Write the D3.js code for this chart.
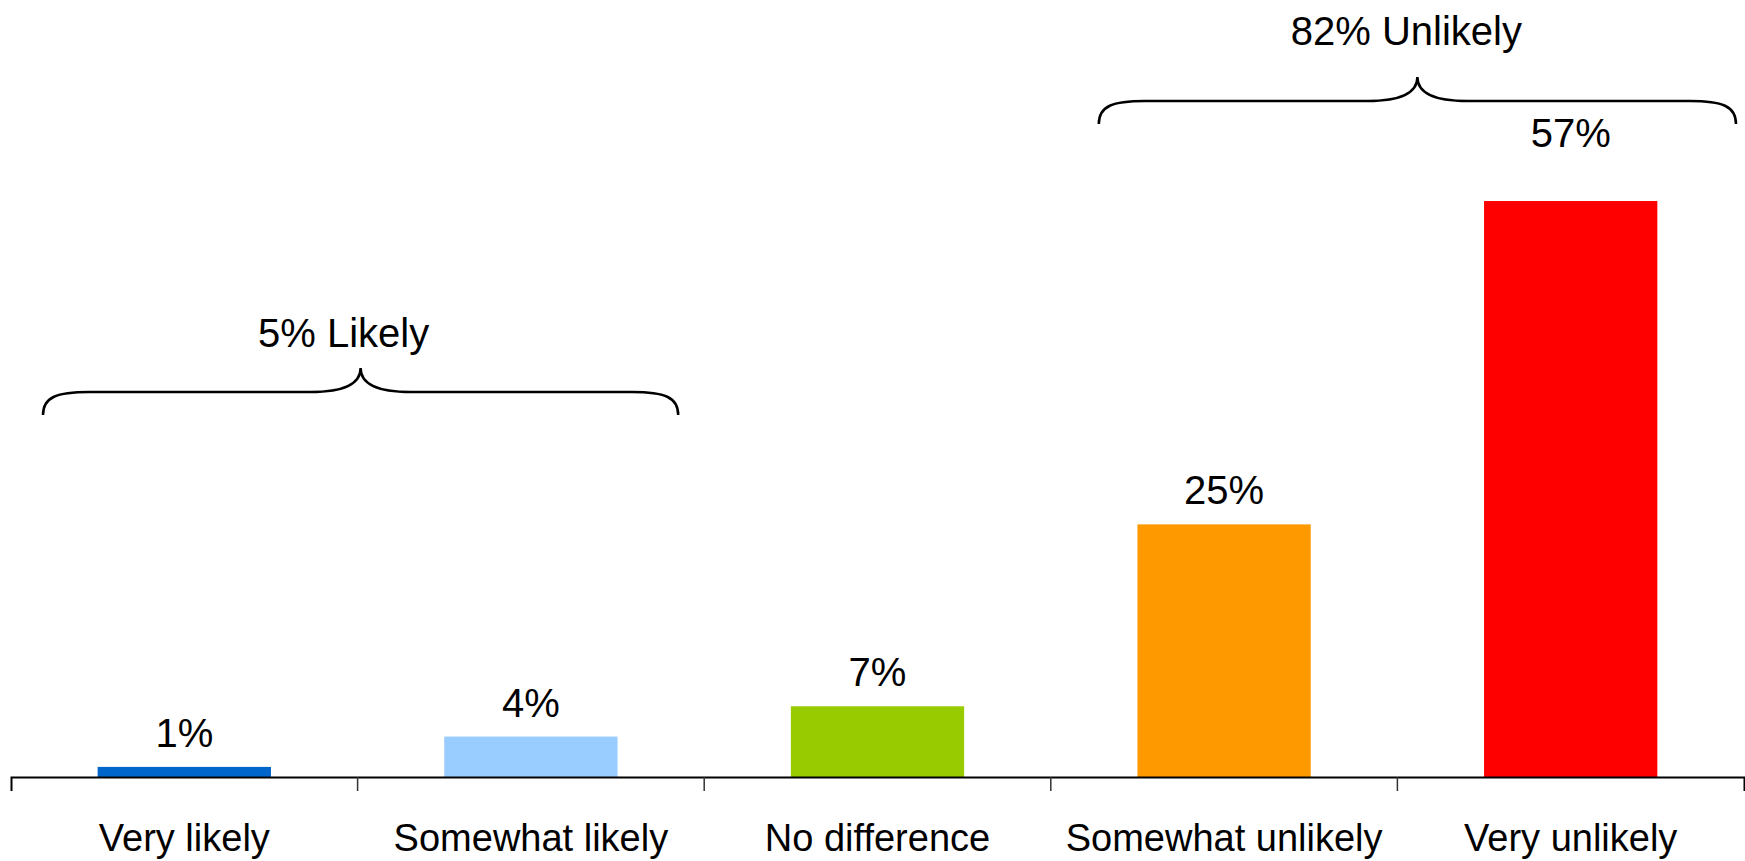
<!DOCTYPE html>
<html>
<head>
<meta charset="utf-8">
<script src="https://cdn.jsdelivr.net/npm/d3@7"></script>
<style>
  html, body { margin: 0; padding: 0; background: #fff; }
  svg { display: block; font-family: "Liberation Sans", Arial, sans-serif; }
</style>
</head>
<body>
<svg id="chart" width="1745" height="861"></svg>
<script>
// Response categories and their shares (%)
const categories = ["Very likely", "Somewhat likely", "No difference", "Somewhat unlikely", "Very unlikely"];
const values = [1, 4, 7, 25, 57];
const barColors = ["#0066CC", "#99CCFF", "#99CC00", "#FF9900", "#FF0000"];

// Grouped totals shown above curly braces
const groupLabels = ["5% Likely", "82% Unlikely"];
const groupFirst = ["Very likely", "Somewhat unlikely"];
const groupLast = ["Somewhat likely", "Very unlikely"];

const svg = d3.select("#chart");
const baseY = 777;

const x = d3.scaleBand()
  .domain(categories)
  .range([11, 1744])
  .paddingInner(0.5)
  .paddingOuter(0.25);

const pxPerPct = 10.105;
const y = d3.scaleLinear()
  .domain([0, 70])
  .range([baseY, baseY - 70 * pxPerPct]);

// Bars
svg.append("g")
  .selectAll("rect")
  .data(categories)
  .join("rect")
  .attr("x", d => x(d))
  .attr("width", x.bandwidth())
  .attr("y", (d, i) => y(values[i]))
  .attr("height", (d, i) => y(0) - y(values[i]))
  .attr("fill", (d, i) => barColors[i]);

// Value labels; the tallest one sits a little higher, just below its brace
const maxVal = d3.max(values);
svg.append("g")
  .selectAll("text")
  .data(categories)
  .join("text")
  .attr("x", d => x(d) + x.bandwidth() / 2)
  .attr("y", (d, i) => y(values[i]) - (values[i] === maxVal ? 54 : 20))
  .attr("text-anchor", "middle")
  .attr("font-size", 40)
  .attr("fill", "#000")
  .text((d, i) => values[i] + "%");

// Category axis: labels centred under bars, ticks on band boundaries
const axis = d3.axisBottom(x).tickSize(0).tickSizeOuter(14).tickPadding(0);
const gAxis = svg.append("g")
  .attr("transform", `translate(0,${baseY})`)
  .call(axis);
gAxis.select(".domain").attr("stroke", "#000").attr("stroke-width", 2);
gAxis.selectAll(".tick text")
  .attr("y", 74)
  .attr("dy", 0)
  .attr("font-size", 38)
  .attr("font-family", "Liberation Sans, Arial, sans-serif")
  .attr("fill", "#000");

const step = x.step();
const boundaries = categories.slice(1).map(c => x(c) - (step - x.bandwidth()) / 2);
gAxis.append("g")
  .selectAll("line")
  .data(boundaries)
  .join("line")
  .attr("x1", d => d).attr("x2", d => d)
  .attr("y1", 0).attr("y2", 14)
  .attr("stroke", "#333")
  .attr("stroke-width", 1.5);

// Curly braces over grouped categories
const braceLayout = [
  { inL: 32, inR: 26, lineY: 392, textY: 347, textShift: -17 },
  { inL: 48, inR: 8,  lineY: 101, textY: 45,  textShift: -11 }
];

function bracePath(xs, xe, yl) {
  const yEnd = yl + 23, yPeak = yl - 24;
  const xp = (xs + xe) / 2;
  return `M${xs},${yEnd} C${xs},${yl + 5} ${xs + 14},${yl} ${xs + 46},${yl}` +
         ` L${xp - 50},${yl} C${xp - 16},${yl} ${xp},${yl - 8} ${xp},${yPeak}` +
         ` C${xp},${yl - 8} ${xp + 16},${yl} ${xp + 50},${yl}` +
         ` L${xe - 46},${yl} C${xe - 14},${yl} ${xe},${yl + 5} ${xe},${yEnd}`;
}

const braces = svg.append("g");
groupLabels.forEach((label, i) => {
  const lay = braceLayout[i];
  const start = x(groupFirst[i]) - (step - x.bandwidth()) / 2 + lay.inL;
  const end = x(groupLast[i]) + x.bandwidth() + (step - x.bandwidth()) / 2 - lay.inR;
  braces.append("path")
    .attr("d", bracePath(start, end, lay.lineY))
    .attr("fill", "none")
    .attr("stroke", "#000")
    .attr("stroke-width", 2.5);
  braces.append("text")
    .attr("x", (start + end) / 2 + lay.textShift)
    .attr("y", lay.textY)
    .attr("text-anchor", "middle")
    .attr("font-size", 40)
    .attr("fill", "#000")
    .text(label);
});
</script>
</body>
</html>
